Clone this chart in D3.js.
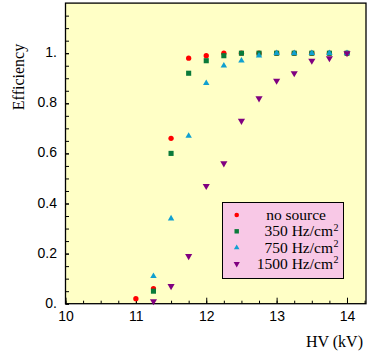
<!DOCTYPE html>
<html><head><meta charset="utf-8">
<script src="https://cdn.jsdelivr.net/npm/d3@7/dist/d3.min.js"></script>
<style>body{margin:0;background:#fff}</style>
</head><body>
<script>
const hv = [11, 11.25, 11.5, 11.75, 12, 12.25, 12.5, 12.75, 13, 13.25, 13.5, 13.75, 14];
const noSource = [0.02, 0.06, 0.66, 0.98, 0.99, 1.0, 1.0, 1.0, 1.0, 1.0, 1.0, 1.0, 1.0];
const hz350 = [null, 0.05, 0.60, 0.92, 0.97, 0.99, 1.0, 1.0, 1.0, 1.0, 1.0, 1.0, 1.0];
const hz750 = [null, 0.11, 0.34, 0.67, 0.88, 0.95, 0.97, 0.99, 1.0, 1.0, 1.0, 1.0, 1.0];
const hz1500 = [null, 0.01, 0.07, 0.19, 0.47, 0.56, 0.73, 0.82, 0.89, 0.92, 0.97, 0.98, 1.0];
const seriesNames = ["no source", "350 Hz/cm", "750 Hz/cm", "1500 Hz/cm"];
const seriesSup = ["", "2", "2", "2"];
const xTickValues = [10, 11, 12, 13, 14];
const xTickLabels = ["10", "11", "12", "13", "14"];
const yTickValues = [0, 0.2, 0.4, 0.6, 0.8, 1.0];
const yTickLabels = ["0.", "0.2", "0.4", "0.6", "0.8", "1."];
const xTitle = "HV (kV)";
const yTitle = "Efficiency";

const W = 381, H = 360;
const L = 65.5, R = 366, T = 3.1, B = 303.7;
const x = d3.scaleLinear().domain([10, 14.27]).range([L, R]);
const y = d3.scaleLinear().domain([0, 1.2]).range([B, T]);

const svg = d3.select("body").append("svg").attr("width", W).attr("height", H);

svg.append("rect").attr("x", L).attr("y", T).attr("width", R - L).attr("height", B - T).attr("fill", "#ffffc6");

// minor ticks
const xMinor = d3.range(10, 14.26, 0.25);
const yMinor = d3.range(0, 1.2, 0.05);
svg.append("g").attr("transform", `translate(0,${B})`)
  .call(d3.axisBottom(x).tickValues(xMinor).tickSizeInner(-3).tickSizeOuter(0).tickFormat(""))
  .call(g => g.select(".domain").remove());
svg.append("g").attr("transform", `translate(${L},0)`)
  .call(d3.axisLeft(y).tickValues(yMinor).tickSizeInner(-3.5).tickSizeOuter(0).tickFormat(""))
  .call(g => g.select(".domain").remove());

// major
const xa = svg.append("g").attr("transform", `translate(0,${B})`)
  .call(d3.axisBottom(x).tickValues(xTickValues).tickSizeInner(-6).tickSizeOuter(0).tickPadding(7.5)
    .tickFormat((d, i) => xTickLabels[i]));
xa.select(".domain").remove();
xa.selectAll("text").attr("font-family", "Liberation Sans, Arial, sans-serif").attr("font-size", 14).attr("fill", "#000");
const ya = svg.append("g").attr("transform", `translate(${L},0)`)
  .call(d3.axisLeft(y).tickValues(yTickValues).tickSizeInner(-3.5).tickSizeOuter(0).tickPadding(8.5)
    .tickFormat((d, i) => yTickLabels[i]));
ya.select(".domain").remove();
ya.selectAll("text").attr("font-family", "Liberation Sans, Arial, sans-serif").attr("font-size", 14).attr("dy", "0.25em").attr("fill", "#000");

svg.append("rect").attr("x", L).attr("y", T).attr("width", R - L).attr("height", B - T)
  .attr("fill", "none").attr("stroke", "#000").attr("stroke-width", 1.3);

// data
const colors = ["#ff0000", "#0a7a3a", "#10a0d0", "#800080"];
const symbols = [d3.symbolCircle, d3.symbolSquare, d3.symbolTriangle, d3.symbolTriangle];
const sizes = [22, 26, 18, 22];
const rot = [0, 0, 0, 180];
const all = [noSource, hz350, hz750, hz1500];
all.forEach((vals, s) => {
  const pts = hv.map((h, i) => ({h, v: vals[i]})).filter(d => d.v != null);
  svg.append("g").selectAll("path").data(pts).join("path")
    .attr("d", d3.symbol(symbols[s], sizes[s]))
    .attr("transform", d => `translate(${x(d.h)},${y(d.v)}) rotate(${rot[s]})`)
    .attr("fill", colors[s]);
});

// legend
const lg = svg.append("g");
lg.append("rect").attr("x", 222.5).attr("y", 202.5).attr("width", 121).attr("height", 76)
  .attr("fill", "#f8c8e6").attr("stroke", "#000").attr("stroke-width", 1);
const textEnd = [326, 333, 333, 333];
seriesNames.forEach((nm, i) => {
  const cy = 215 + i * 16.3;
  lg.append("path").attr("d", d3.symbol(symbols[i], sizes[i] * 0.75))
    .attr("transform", `translate(236.7,${cy}) rotate(${rot[i]})`).attr("fill", colors[i]);
  lg.append("text").attr("x", textEnd[i]).attr("y", cy + 5).attr("text-anchor", "end")
    .attr("font-family", "Liberation Serif, Times New Roman, serif").attr("font-size", 15.5).text(nm);
  if (seriesSup[i]) {
    lg.append("text").attr("x", textEnd[i] + 0.5).attr("y", cy - 0.5)
      .attr("font-family", "Liberation Serif, Times New Roman, serif").attr("font-size", 10).text(seriesSup[i]);
  }
});

// titles
svg.append("text").attr("x", 363).attr("y", 346.5).attr("text-anchor", "end")
  .attr("font-family", "Liberation Serif, Times New Roman, serif").attr("font-size", 16).text(xTitle);
svg.append("text").attr("transform", "translate(24,77) rotate(-90)").attr("text-anchor", "middle")
  .attr("font-family", "Liberation Serif, Times New Roman, serif").attr("font-size", 16).text(yTitle);
</script>
</body></html>
